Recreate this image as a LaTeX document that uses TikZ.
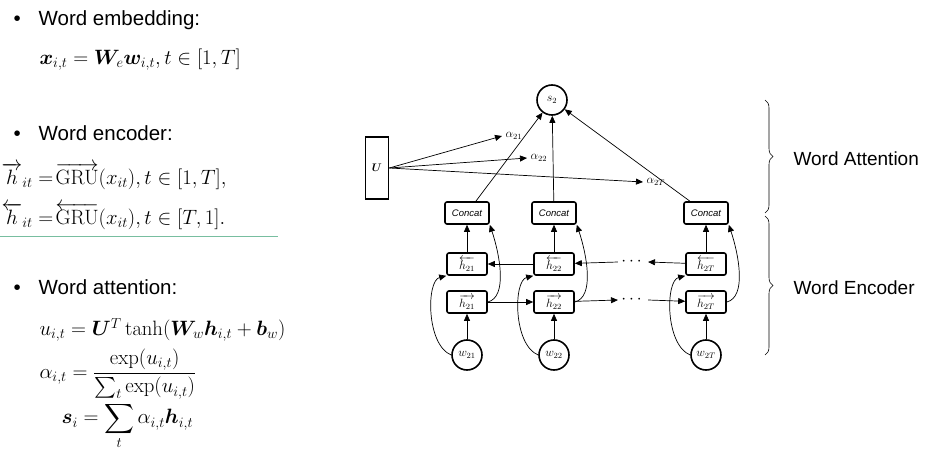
\documentclass[tikz,border=0pt]{standalone}
\usepackage{amsmath,bm}
\usepackage[no-math]{fontspec}
\setmainfont{Liberation Sans}
\usetikzlibrary{arrows.meta,decorations.pathreplacing}
\begin{document}
\begin{tikzpicture}[x=1pt,y=-1pt,
  box/.style={draw,line width=1.6pt,rounded corners=2pt,minimum width=40pt,minimum height=22pt,inner sep=1pt,font=\fontsize{12}{13}\selectfont},
  cbox/.style={box,minimum width=44pt,font=\fontsize{9.5}{10}\selectfont\itshape},
  circ/.style={draw,circle,line width=1.6pt,minimum size=30pt,inner sep=0pt,font=\fontsize{12}{13}\selectfont},
  arr/.style={-{Triangle[length=7pt,width=6pt]},line width=0.7pt},
  lab/.style={font=\fontsize{20.5}{22}\selectfont,anchor=west},
  eq/.style={font=\fontsize{22}{24}\selectfont,anchor=west},
  alab/.style={font=\fontsize{12}{13}\selectfont,anchor=west},
  brace/.style={decorate,decoration={brace,amplitude=8pt},line width=0.6pt}]
\useasboundingbox (0,0) rectangle (936,457);
% left text
\node[lab] (b1) at (10,20) {•\hspace{18pt}Word embedding:};
\node[eq] (e1) at (36,60) {$\bm{x}_{i,t}=\bm{W}_e\bm{w}_{i,t}, t\in[1,T]$};
\node[lab] (b2) at (10,133) {•\hspace{18pt}Word encoder:};
\node[eq] (e2) at (-2,176) {$\overrightarrow{h}_{it}=\!\overrightarrow{\mathrm{GRU}}(x_{it}), t\in[1,T],$};
\node[eq] (e3) at (-2,216) {$\overleftarrow{h}_{it}=\!\overleftarrow{\mathrm{GRU}}(x_{it}), t\in[T,1].$};
\draw[color={rgb,255:red,120;green,190;blue,160},line width=0.8pt] (0,236) coordinate (g1) -- (278,236) coordinate (g2);
\node[lab] (b3) at (10,287) {•\hspace{18pt}Word attention:};
\node[eq,font=\fontsize{20}{22}\selectfont] (e4) at (36,330) {$u_{i,t}=\bm{U}^T\tanh(\bm{W}_w\bm{h}_{i,t}+\bm{b}_w)$};
\node[eq,font=\fontsize{20}{22}\selectfont] (e5) at (36,374) {$\alpha_{i,t}=\dfrac{\exp(u_{i,t})}{\sum_t\exp(u_{i,t})}$};
\node[eq,font=\fontsize{20}{22}\selectfont] (e6) at (58,426) {$\bm{s}_i=\displaystyle\sum_t\alpha_{i,t}\bm{h}_{i,t}$};
% diagram
\node[circ] (s) at (552,100) {$s_2$};
\node[draw,line width=1.6pt,minimum width=23pt,minimum height=62pt,inner sep=0pt,font=\fontsize{11}{12}\selectfont] (U) at (377,168) {$\bm{U}$};
\node[alab] (a1) at (502,136) {$\alpha_{21}$};
\node[alab] (a2) at (527,158) {$\alpha_{22}$};
\node[alab] (a3) at (643,182) {$\alpha_{2T}$};
\foreach \n/\x/\i in {1/467/21,2/554/22,3/706/2T}{
  \node[cbox] (c\n) at (\x,213) {Concat};
  \node[box] (hb\n) at (\x,264) {$\overleftarrow{h_{\i}}$};
  \node[box] (hf\n) at (\x,302) {$\overrightarrow{h_{\i}}$};
  \node[circ] (w\n) at (\x,355) {$w_{\i}$};
  \draw[arr] (hb\n) -- (c\n);
  \draw[arr] (w\n) -- (hf\n);
  \draw[arr] (c\n) -- (s);
  \draw[arr] (w\n.west) .. controls +(-25,-10) and +(-20,5) .. (hb\n.south west);
  \draw[arr] (hf\n.east) .. controls +(20,-5) and +(10,30) .. (c\n.south east);
}
\draw[arr] (U.east) -- (a1.west);
\draw[arr] (U.east) -- (a2.west);
\draw[arr] (U.east) -- (a3.west);
\node[font=\fontsize{16}{16}\selectfont] (d1) at (633,262) {$\cdots$};
\node[font=\fontsize{16}{16}\selectfont] (d2) at (633,300) {$\cdots$};
\draw[arr] (hf1) -- (hf2);
\draw[arr] (hf2) -- (d2.west);
\draw[arr] (d2.east) -- (hf3);
\draw[arr] (hb2) -- (hb1);
\draw[arr] (d1.west) -- (hb2);
\draw[arr] (hb3) -- (d1.east);
% braces
\coordinate (br1) at (765,100); \coordinate (br2) at (765,213);
\coordinate (br3) at (765,216); \coordinate (br4) at (765,355);
\draw[brace] (br1) -- (br2);
\draw[brace] (br3) -- (br4);
\node[lab,font=\fontsize{19}{20}\selectfont] (wa) at (790,159) {Word Attention};
\node[lab,font=\fontsize{19}{20}\selectfont] (we) at (790,288) {Word Encoder};
\end{tikzpicture}
\end{document}
